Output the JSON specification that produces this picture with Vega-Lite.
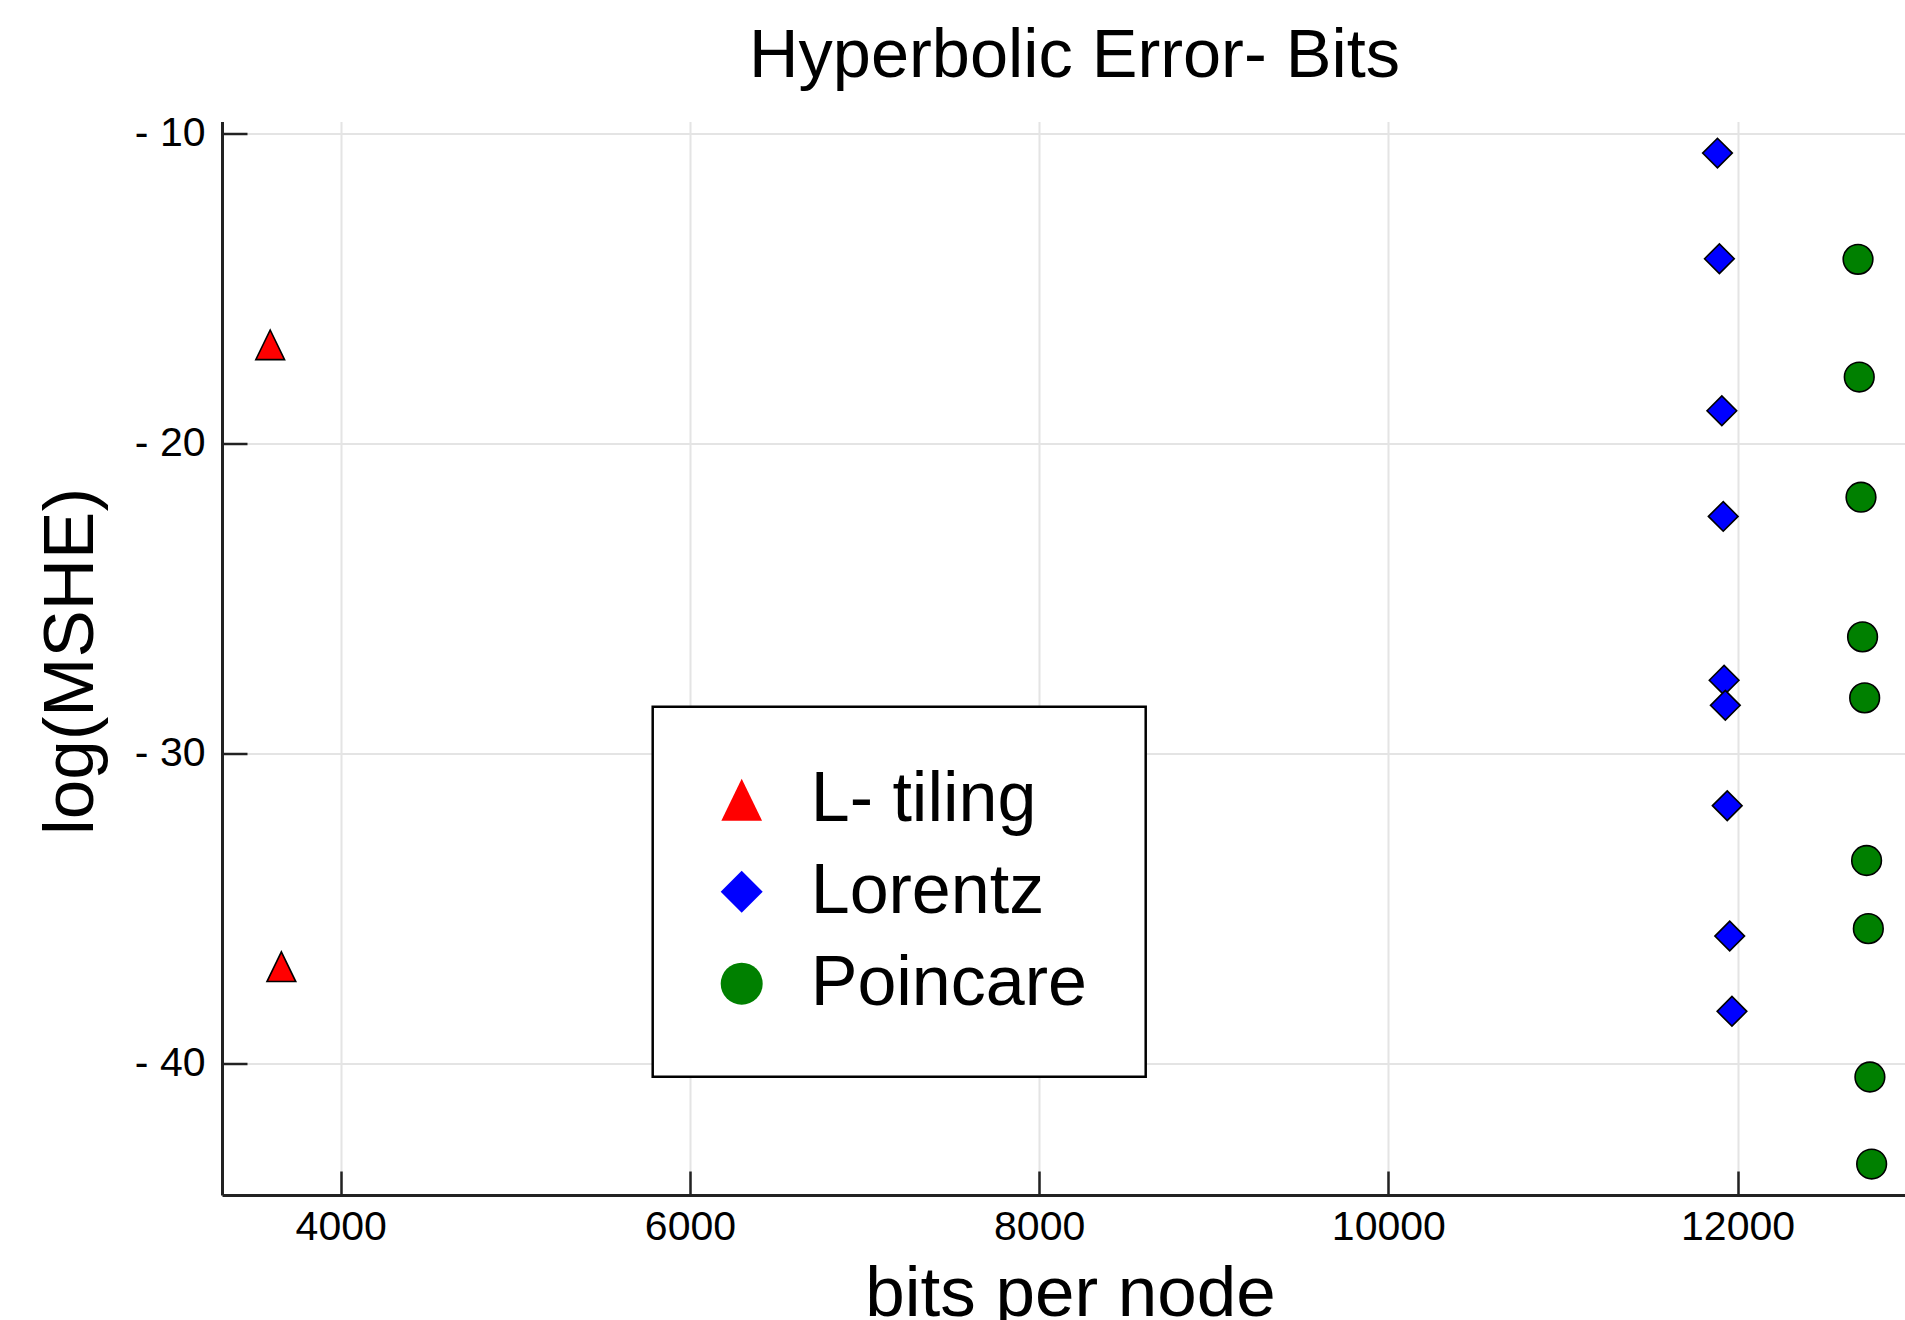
{
  "$schema": "https://vega.github.io/schema/vega-lite/v6.json",
  "autosize": {"type": "none"},
  "padding": {"left": 222, "top": 121.5, "right": 0, "bottom": 125},
  "width": 1683,
  "height": 1073.5,
  "background": "white",
  "title": {
    "text": "Hyperbolic Error- Bits",
    "fontSize": 68.5,
    "font": "Liberation Sans",
    "fontWeight": "normal",
    "color": "black",
    "anchor": "middle",
    "baseline": "alphabetic",
    "offset": 26,
    "dx": 11,
    "dy": 59
  },
  "data": {
    "values": [
      {"method": "L- tiling", "bits": 3596, "err": -16.81},
      {"method": "L- tiling", "bits": 3660, "err": -36.89},
      {"method": "Lorentz", "bits": 11885, "err": -10.62},
      {"method": "Lorentz", "bits": 11896, "err": -14.03},
      {"method": "Lorentz", "bits": 11910, "err": -18.94},
      {"method": "Lorentz", "bits": 11918, "err": -22.35},
      {"method": "Lorentz", "bits": 11923, "err": -27.64},
      {"method": "Lorentz", "bits": 11930, "err": -28.45},
      {"method": "Lorentz", "bits": 11941, "err": -31.69},
      {"method": "Lorentz", "bits": 11955, "err": -35.90},
      {"method": "Lorentz", "bits": 11968, "err": -38.33},
      {"method": "Poincare", "bits": 12690, "err": -14.05},
      {"method": "Poincare", "bits": 12697, "err": -17.85},
      {"method": "Poincare", "bits": 12707, "err": -21.73},
      {"method": "Poincare", "bits": 12716, "err": -26.24},
      {"method": "Poincare", "bits": 12728, "err": -28.21},
      {"method": "Poincare", "bits": 12739, "err": -33.46},
      {"method": "Poincare", "bits": 12749, "err": -35.66},
      {"method": "Poincare", "bits": 12758, "err": -40.45},
      {"method": "Poincare", "bits": 12768, "err": -43.26}
    ]
  },
  "mark": {"type": "point", "filled": true, "size": 880, "stroke": "black", "strokeWidth": 1.6, "opacity": 1},
  "encoding": {
    "x": {
      "field": "bits", "type": "quantitative",
      "scale": {"domain": [3320, 12959], "nice": false, "zero": false},
      "axis": {
        "values": [4000, 6000, 8000, 10000, 12000],
        "format": "d",
        "title": "bits per node",
        "titleFontSize": 71,
        "titleFont": "Liberation Sans",
        "titleFontWeight": "normal",
        "titleColor": "black",
        "titleX": 848,
        "titleY": 120.5,
        "titleBaseline": "alphabetic",
        "titleAlign": "center",
        "labelFontSize": 41,
        "labelFont": "Liberation Sans",
        "labelColor": "black",
        "tickSize": -24,
        "labelPadding": 36,
        "labelFlush": false
      }
    },
    "y": {
      "field": "err", "type": "quantitative",
      "scale": {"domain": [-44.26, -9.6], "nice": false, "zero": false},
      "axis": {
        "values": [-10, -20, -30, -40],
        "labelExpr": "'- ' + abs(datum.value)",
        "title": "log(MSHE)",
        "titleFontSize": 71,
        "titleFont": "Liberation Sans",
        "titleFontWeight": "normal",
        "titleColor": "black",
        "titleX": -130,
        "titleY": 539.5,
        "titleAngle": -90,
        "titleBaseline": "alphabetic",
        "titleAlign": "center",
        "labelFontSize": 41,
        "labelFont": "Liberation Sans",
        "labelColor": "black",
        "tickSize": -25,
        "labelPadding": 42,
        "labelFlush": false
      }
    },
    "fill": {
      "field": "method", "type": "nominal",
      "scale": {"domain": ["L- tiling", "Lorentz", "Poincare"], "range": ["#ff0000", "#0000ff", "#008000"]},
      "legend": {
        "orient": "none",
        "legendX": 430.7,
        "legendY": 585.2,
        "title": null,
        "padding": 58,
        "symbolOffset": -4,
        "labelOffset": 34,
        "labelFontSize": 70,
        "labelFont": "Liberation Sans",
        "labelColor": "black",
        "labelLimit": 0,
        "symbolSize": 1764,
        "symbolStrokeColor": "black",
        "symbolStrokeWidth": 1.6,
        "symbolOpacity": 1,
        "rowPadding": 22,
        "strokeColor": "black",
        "fillColor": "white"
      }
    },
    "shape": {
      "field": "method", "type": "nominal",
      "scale": {"domain": ["L- tiling", "Lorentz", "Poincare"], "range": ["M0,-1L0.97,1L-0.97,1Z", "diamond", "circle"]},
      "legend": {
        "orient": "none",
        "legendX": 430.7,
        "legendY": 585.2,
        "title": null,
        "padding": 58,
        "symbolOffset": -4,
        "labelOffset": 34,
        "labelFontSize": 70,
        "labelFont": "Liberation Sans",
        "labelColor": "black",
        "labelLimit": 0,
        "symbolSize": 1764,
        "symbolStrokeColor": "black",
        "symbolStrokeWidth": 1.6,
        "symbolOpacity": 1,
        "rowPadding": 22,
        "strokeColor": "black",
        "fillColor": "white"
      }
    }
  },
  "config": {
    "view": {"stroke": null},
    "axis": {
      "gridColor": "#e4e4e4",
      "gridWidth": 2,
      "domainColor": "#222222",
      "domainWidth": 3,
      "tickColor": "#222222",
      "tickWidth": 2.5
    },
    "legend": {"strokeWidth": 2.5}
  }
}
